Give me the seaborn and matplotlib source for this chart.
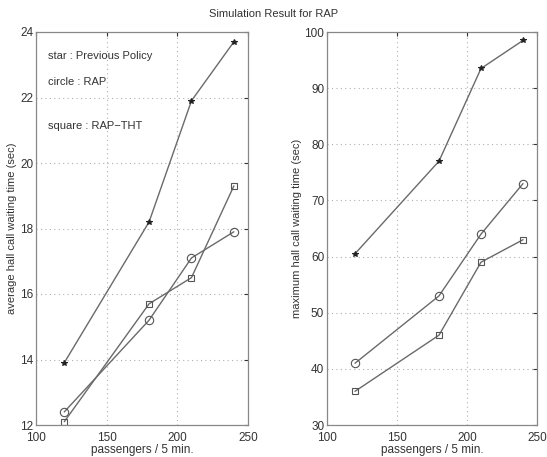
import matplotlib
matplotlib.use("Agg")
import matplotlib.pyplot as plt
import seaborn as sns
import pandas as pd

sns.set_style("white")
plt.rcParams['font.family'] = ['Liberation Sans', 'DejaVu Sans']

passengers = [120, 180, 210, 240]
avg_previous = [13.9, 18.2, 21.9, 23.7]
avg_rap = [12.4, 15.2, 17.1, 17.9]
avg_rap_tht = [12.1, 15.7, 16.5, 19.3]
max_previous = [60.5, 77.0, 93.5, 98.5]
max_rap = [41.0, 53.0, 64.0, 73.0]
max_rap_tht = [36.0, 46.0, 59.0, 63.0]
x_ticks = [100, 150, 200, 250]
avg_ticks = [12, 14, 16, 18, 20, 22, 24]
max_ticks = [30, 40, 50, 60, 70, 80, 90, 100]
notes = ["star : Previous Policy", "circle : RAP", "square : RAP\u2212THT"]

fig = plt.figure(figsize=(5.47, 4.57), dpi=100)
ax1 = fig.add_axes([36/547, 32/457, 212/547, 393/457])
ax2 = fig.add_axes([327/547, 32/457, 210/547, 393/457])

line_c = '#6a6a6a'
def draw(ax, ys, marker, ms, mfc, mec):
    sns.lineplot(x=passengers, y=ys, ax=ax, color=line_c, lw=1.0,
                 marker=marker, markersize=ms, markerfacecolor=mfc,
                 markeredgecolor=mec, markeredgewidth=0.8, estimator=None)

for ax, series, ticks, ylab in [
    (ax1, [avg_previous, avg_rap, avg_rap_tht], avg_ticks, "average hall call waiting time (sec)"),
    (ax2, [max_previous, max_rap, max_rap_tht], max_ticks, "maximum hall call waiting time (sec)")]:
    draw(ax, series[0], '*', 4, '#222222', '#222222')
    draw(ax, series[1], 'o', 6, 'none', '#555555')
    draw(ax, series[2], 's', 5, 'none', '#555555')
    ax.set_xlim(100, 250)
    ax.set_ylim(ticks[0], ticks[-1])
    ax.set_xticks(x_ticks)
    ax.set_yticks(ticks)
    ax.grid(True, linestyle=(0, (1, 3)), color='#b0b0b0', lw=0.8)
    ax.tick_params(direction='in', length=3, top=True, right=True, labelsize=8.5,
                   colors='#333333', pad=2)
    ax.tick_params(axis='x', pad=5)
    for s in ax.spines.values():
        s.set_color('#888888')
        s.set_linewidth(0.9)
    ax.set_xlabel("passengers / 5 min.", fontsize=8.5, color='#333333', labelpad=0)
    ax.set_ylabel(ylab, fontsize=8, color='#333333', labelpad=2)

ax1.text(108.5, 23.27, notes[0], fontsize=8, color='#333333', va='center')
ax1.text(108.5, 22.47, notes[1], fontsize=8, color='#333333', va='center')
ax1.text(108.5, 21.13, notes[2], fontsize=8, color='#333333', va='center')

fig.text(0.5, 1 - 14/457, "Simulation Result for RAP", ha='center', va='center',
         fontsize=8, color='#333333')

fig.savefig("out.png", dpi=100)
